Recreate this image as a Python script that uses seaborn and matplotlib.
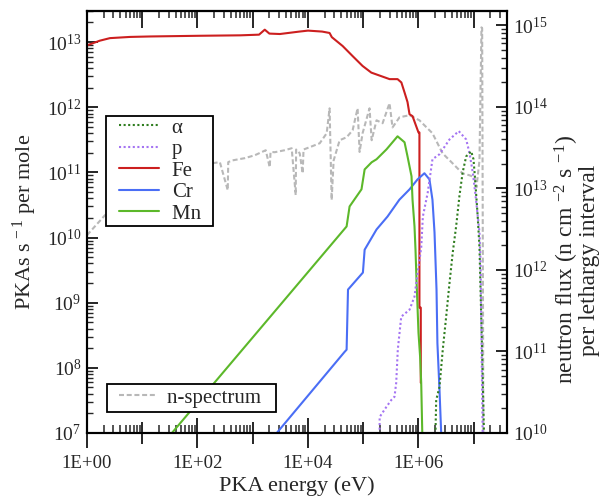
import numpy as np
import matplotlib
matplotlib.use("Agg")
import matplotlib.pyplot as plt
import seaborn as sns
from matplotlib.lines import Line2D
from matplotlib.legend_handler import HandlerLine2D
from matplotlib.ticker import FixedLocator, LogLocator, FuncFormatter, NullFormatter, NullLocator

# ---------------------------------------------------------------------------
# Data (energies in eV)
# ---------------------------------------------------------------------------
fe_energy = [1, 1.7, 2.6, 6, 14, 110, 600, 1300, 1650, 2000, 3100, 7000, 10000, 18000,
             24600, 27000, 42400, 64200, 97300, 140000, 300000, 418000, 490000, 560000,
             633000, 688000, 780000, 910000, 1.0e6, 1.04e6, 1.04e6, 1.1e6, 1.1e6]
fe_pka = [8.9e12, 1.05e13, 1.15e13, 1.2e13, 1.22e13, 1.25e13, 1.27e13, 1.3e13, 1.55e13, 1.35e13,
          1.33e13, 1.45e13, 1.5e13, 1.45e13, 1.38e13, 1.19e13, 8.7e12, 6.1e12, 4.3e12, 3.4e12,
          2.7e12, 2.7e12, 2.4e12, 1.68e12, 1.2e12, 7.8e11, 7.3e11, 5.1e11, 4.1e11, 4.1e11,
          8.4e8, 8.4e8, 5.9e7]

cr_energy = [1500, 2718, 4.6e4, 5.0e4, 5.3e4, 9.86e4, 1.06e5, 1.74e5, 2.75e5, 4.5e5, 6.9e5,
             9.6e5, 1.28e6, 1.58e6, 1.79e6, 1.95e6, 2.12e6, 2.2e6, 2.4e6, 2.57e6, 2.65e6]
cr_pka = [5.5e6, 1e7, 1.76e8, 1.9e8, 1.59e9, 2.9e9, 6.5e9, 1.33e10, 2.1e10, 3.8e10, 5.5e10,
          7.8e10, 9.7e10, 7.8e10, 3.8e10, 1.2e10, 1.59e9, 2.4e8, 4.6e7, 1.04e7, 5e6]

mn_energy = [20, 34.4, 5.0e4, 5.66e4, 9.3e4, 1.06e5, 1.42e5, 1.74e5, 2.64e5, 4.18e5, 5.59e5,
             6.33e5, 7.48e5, 7.8e5, 8.47e5, 8.83e5, 9.2e5, 9.6e5, 1.0e6, 1.07e6, 1.12e6,
             1.17e6, 1.2e6]
mn_pka = [5.8e6, 1e7, 1.48e10, 3.0e10, 5.5e10, 1.11e11, 1.43e11, 1.59e11, 2.26e11, 3.58e11,
          2.9e11, 1.76e11, 8.7e10, 3.8e10, 1.48e10, 6.5e9, 2.26e9, 8.7e8, 3.45e8, 1.48e8,
          5.9e7, 1.04e7, 5e6]

p_energy = [1.98e5, 1.98e5, 2.61e5, 3.21e5, 3.68e5, 3.95e5, 4.22e5, 4.87e5, 6.88e5, 8.47e5,
            9.1e5, 1.12e6, 1.2e6, 1.47e6, 1.79e6, 2.4e6, 3.64e6, 5.36e6, 7.3e6, 8.36e6,
            9.6e6, 1.1e7, 1.27e7, 1.33e7, 1.38e7, 1.45e7, 1.5e7]
p_pka = [5e6, 1.76e7, 2.5e7, 3.2e7, 3.6e7, 5.9e7, 1.9e8, 6.1e8, 7.8e8, 1.24e9, 2.0e9, 7.0e9,
         2.1e10, 4.9e10, 1.59e11, 1.9e11, 3.2e11, 4.3e11, 3.2e11, 2.0e11, 1.0e11, 3.8e10,
         1.2e10, 4e9, 2.7e8, 1e7, 3e6]

alpha_energy = [2.03e6, 2.03e6, 2.09e6, 2.4e6, 2.75e6, 3.17e6, 3.64e6, 4.17e6, 4.8e6, 5.5e6,
                6.3e6, 7.3e6, 9.0e6, 9.9e6, 1.07e7, 1.18e7, 1.27e7, 1.4e7, 1.56e7]
alpha_pka = [5e6, 1e7, 3.2e7, 5.1e7, 1.9e8, 6.1e8, 2.0e9, 5.9e9, 1.48e10, 4.3e10, 1.0e11,
             1.76e11, 2.1e11, 1.59e11, 7.0e10, 2.1e10, 7.0e9, 2.7e8, 5e6]

# neutron spectrum (right axis)
ns_energy = [1, 2.12, 13.8, 80, 189, 254, 353, 360, 418, 717, 1087, 1718, 2030, 2100, 2500,
             3790, 5070, 5990, 6100, 7080, 8010, 8300, 10700, 16300, 21800, 24600, 26800,
             29100, 37400, 50000, 64200, 79000, 85900, 97300, 130000, 142000, 174000, 224000,
             299000, 339000, 454000, 688000, 1.04e6, 1.40e6, 1.79e6, 2.72e6, 4.12e6, 6.25e6,
             8.36e6, 1.03e7, 1.12e7, 1.27e7, 1.38e7, 1.42e7, 1.5e7]
ns_flux = [2.67e12, 4.7e12, 9e12, 1.6e13, 2.04e13, 2.1e13, 9.5e12, 2.1e13, 2.2e13, 2.35e13,
           2.55e13, 2.94e13, 1.82e13, 2.8e13, 2.78e13, 2.94e13, 3.11e13, 8.3e12, 3.0e13,
           2.7e13, 1.53e13, 3.0e13, 3.2e13, 3.58e13, 4.75e13, 9.6e13, 7.2e12, 2.2e13, 3.9e13,
           4.24e13, 5.16e13, 9.6e13, 2.8e13, 4.75e13, 9.6e13, 3.9e13, 6.85e13, 6.3e13,
           1.11e14, 5.6e13, 7.46e13, 7.9e13, 6.85e13, 5.6e13, 4.75e13, 2.7e13, 2.04e13,
           1.53e13, 1.45e13, 1.37e13, 1.03e13, 2.2e13, 9.45e14, 9.2e14, 5e9]

decade_labels = {1: "1E+00", 1e2: "1E+02", 1e4: "1E+04", 1e6: "1E+06"}

# ---------------------------------------------------------------------------
sns.set_theme(style="ticks")
plt.rcParams["font.family"] = ["Liberation Serif", "DejaVu Serif"]
plt.rcParams["mathtext.fontset"] = "custom"
plt.rcParams["mathtext.rm"] = "Liberation Serif"
plt.rcParams["mathtext.it"] = "Liberation Serif:italic"

fig = plt.figure(figsize=(6.04, 5.0), dpi=100)
ax = fig.add_axes([87 / 604, 1 - 433 / 500, 420 / 604, 422 / 500])
ax2 = ax.twinx()
ax.set_zorder(ax2.get_zorder() + 1)
ax.patch.set_visible(False)

lw = 1.5
dots = (0, (1, 1.2))
sns.lineplot(x=ns_energy, y=ns_flux, ax=ax2, color="#b8b8b8", lw=lw,
             linestyle=(0, (2.4, 1.3)), sort=False, estimator=None)
sns.lineplot(x=fe_energy, y=fe_pka, ax=ax, color="#cc1f1f", lw=lw, sort=False, estimator=None)
sns.lineplot(x=cr_energy, y=cr_pka, ax=ax, color="#4a6ef5", lw=lw, sort=False, estimator=None)
sns.lineplot(x=mn_energy, y=mn_pka, ax=ax, color="#5cb82a", lw=lw, sort=False, estimator=None)
sns.lineplot(x=p_energy, y=p_pka, ax=ax, color="#a474f2", lw=lw, linestyle=dots,
             sort=False, estimator=None)
sns.lineplot(x=alpha_energy, y=alpha_pka, ax=ax, color="#2f7d1f", lw=lw, linestyle=dots,
             sort=False, estimator=None)

ax.set_xscale("log")
ax.set_yscale("log")
ax2.set_yscale("log")
ax.set_xlim(1, 4e7)
ax.set_ylim(1e7, 3e13)
ax2.set_ylim(1e10, 1.5e15)
ax2.tick_params(axis="x", bottom=False, labelbottom=False)

# x ticks: labelled even decades, odd decades via secondary axis
ax.xaxis.set_major_locator(FixedLocator(list(decade_labels.keys())))
ax.xaxis.set_major_formatter(FuncFormatter(lambda v, p: decade_labels.get(v, "")))
ax.xaxis.set_minor_locator(LogLocator(base=10, subs=np.arange(2, 10), numticks=30))
ax.xaxis.set_minor_formatter(NullFormatter())
ax.tick_params(axis="x", which="major", direction="inout", length=22, width=1.4,
               labelsize=13.5, pad=5, top=False)
ax.tick_params(axis="x", which="minor", direction="in", length=6, width=1.1, top=False)

odd = ax.secondary_xaxis("bottom")
odd.xaxis.set_major_locator(FixedLocator([10, 1e3, 1e5, 1e7]))
odd.xaxis.set_major_formatter(NullFormatter())
odd.xaxis.set_minor_locator(NullLocator())
odd.tick_params(which="major", direction="inout", length=16, width=1.4, labelbottom=False)
odd.spines["bottom"].set_visible(False)

top = ax.secondary_xaxis("top")
top.xaxis.set_major_locator(LogLocator(base=10, numticks=30))
top.xaxis.set_major_formatter(NullFormatter())
top.xaxis.set_minor_locator(LogLocator(base=10, subs=np.arange(2, 10), numticks=30))
top.xaxis.set_minor_formatter(NullFormatter())
top.tick_params(which="major", direction="in", length=12, width=1.4, labeltop=False)
top.tick_params(which="minor", direction="in", length=5, width=1.1)
top.spines["top"].set_linewidth(1.5)

for a in (ax, ax2):
    a.yaxis.set_major_locator(LogLocator(base=10, numticks=30))
    a.yaxis.set_minor_locator(LogLocator(base=10, subs=np.arange(2, 10), numticks=30))
    a.yaxis.set_minor_formatter(NullFormatter())
    for s in a.spines.values():
        s.set_linewidth(1.5)
        s.set_color("black")
ax.tick_params(axis="y", which="major", direction="in", length=8, width=1.4, labelsize=14,
               right=False, pad=4)
ax.tick_params(axis="y", which="minor", direction="in", length=4, width=1.0, right=False)
ax2.tick_params(axis="y", which="major", direction="in", length=8, width=1.4, labelsize=14, pad=4)
ax2.tick_params(axis="y", which="minor", direction="in", length=4, width=1.0)

ax.set_xlabel("PKA energy (eV)", fontsize=16, labelpad=3)
ax.set_ylabel("PKAs s$^{\\,-1}$ per mole", fontsize=16)
ax.yaxis.set_label_coords(-0.115, 0.5)
ax2.set_ylabel("neutron flux (n cm $^{-2}$ s $^{-1}$)\nper lethargy interval", fontsize=17,
               multialignment="center", linespacing=0.85)
ax2.yaxis.set_label_coords(1.11, 0.41)

# legends (both on the top axes so they cover the curves)
ns_line = ax2.lines[0]
fe_line, cr_line, mn_line, p_line, a_line = ax.lines[:5]
leg1 = ax.legend([a_line, p_line, fe_line, cr_line, mn_line],
                 ["α", "p", "Fe", "Cr", "Mn\u2002"],
                 handler_map={Line2D: HandlerLine2D(xpad=0.54)},
                 loc="upper left", bbox_to_anchor=(0.045, 0.751), borderaxespad=0,
                 fancybox=False, edgecolor="black", framealpha=1, fontsize=15,
                 handlelength=2.46, labelspacing=0.09, handletextpad=0.6, borderpad=0.1)
leg1.get_frame().set_linewidth(1.3)
ax.add_artist(leg1)
leg2 = ax.legend([ns_line], ["n-spectrum\u2002"],
                 handler_map={Line2D: HandlerLine2D(xpad=0.375)},
                 loc="lower left", bbox_to_anchor=(0.048, 0.05),
                 borderaxespad=0, fancybox=False, edgecolor="black", framealpha=1,
                 fontsize=15, handlelength=2.1, handletextpad=0.58, borderpad=0.2)
leg2.get_frame().set_linewidth(1.3)

fig.savefig("out.png", dpi=100)
